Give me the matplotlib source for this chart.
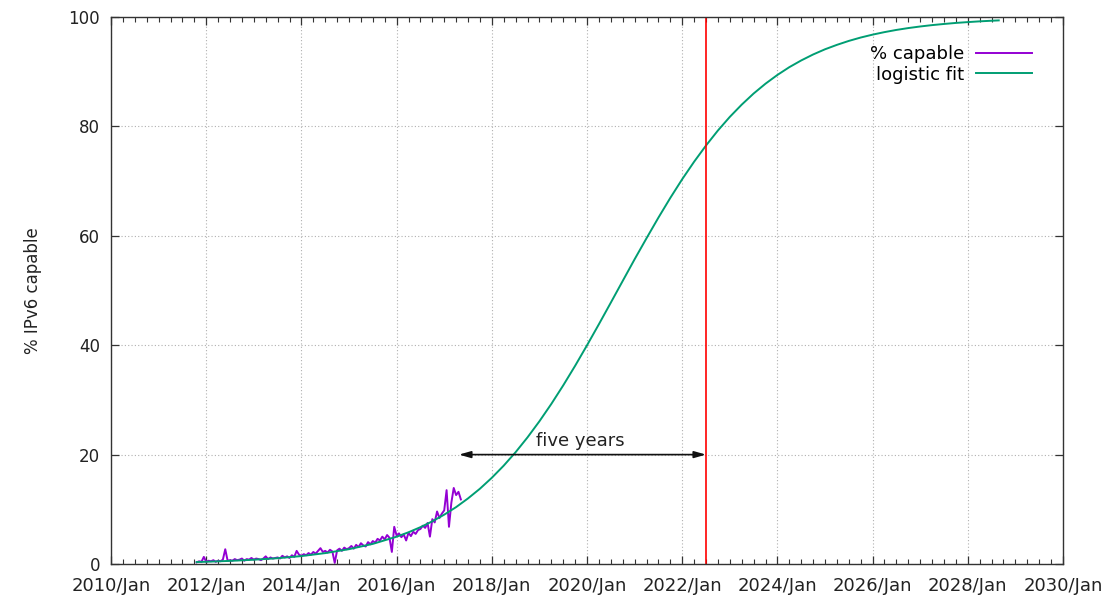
import numpy as np
import matplotlib.pyplot as plt
from matplotlib.ticker import MultipleLocator, FixedLocator, FixedFormatter

# measured share of IPv6-capable users, sampled every 0.05 year from 2011.80
capable_start = 2011.80
capable_step = 0.05
capable_pct = [
    0.3, 0.5, 0.4, 1.3,
    0.4, 0.6, 0.5, 0.7, 0.4, 0.6, 0.5, 0.8, 2.7, 0.6,
    0.7, 0.6, 0.9, 0.7, 0.8, 1.0, 0.6, 0.9, 0.8, 1.1,
    0.8, 1.0, 0.9, 0.7, 1.0, 1.4, 0.9, 1.2, 1.0, 1.1,
    1.2, 1.0, 1.5, 1.2, 1.4, 1.1, 1.6, 1.3, 2.4, 1.7,
    1.5, 1.8, 1.6, 2.0, 1.7, 2.2, 1.9, 2.4, 2.9, 2.2,
    2.4, 2.1, 2.6, 2.3, 0.2, 2.5, 2.8, 2.4, 3.0, 2.7,
    2.9, 3.3, 2.8, 3.5, 3.1, 3.8, 3.4, 3.2, 4.0, 3.6,
    4.2, 3.9, 4.6, 4.3, 5.0, 4.5, 5.3, 4.8, 2.2, 6.8,
    5.2, 5.6, 4.9, 5.4, 4.3, 5.7, 5.1, 5.9, 5.5, 6.2,
    6.4, 7.0, 6.6, 7.5, 5.0, 8.2, 7.6, 9.6, 8.4, 9.2,
    9.8, 13.5, 6.8, 11.2, 13.9, 12.6, 13.2, 11.8,
]

# logistic fit curve
fit_years = [2011.8, 2012.0, 2012.5, 2013.0, 2013.5, 2014.0, 2014.5, 2015.0,
             2015.5, 2016.0, 2016.25, 2016.5, 2016.75, 2017.0, 2017.25, 2017.5,
             2017.75, 2018.0, 2018.25, 2018.5, 2018.75, 2019.0, 2019.25, 2019.5,
             2019.75, 2020.0, 2020.25, 2020.5, 2020.75, 2021.0, 2021.25, 2021.5,
             2021.75, 2022.0, 2022.25, 2022.5, 2022.75, 2023.0, 2023.25, 2023.5,
             2023.75, 2024.0, 2024.25, 2024.5, 2024.75, 2025.0, 2025.25, 2025.5,
             2025.75, 2026.0, 2026.25, 2026.5, 2026.75, 2027.0, 2027.25, 2027.5,
             2027.75, 2028.0, 2028.25, 2028.5, 2028.65]
fit_pct = [0.36, 0.41, 0.57, 0.78, 1.06, 1.45, 1.99, 2.71,
           3.68, 4.99, 5.80, 6.73, 7.80, 9.02, 10.40, 11.99,
           13.76, 15.76, 17.98, 20.44, 23.15, 26.09, 29.26, 32.65,
           36.23, 39.98, 43.84, 47.78, 51.75, 55.71, 59.55, 63.32,
           66.93, 70.35, 73.54, 76.51, 79.25, 81.74, 83.98, 86.01,
           87.81, 89.41, 90.83, 92.06, 93.15, 94.10, 94.91, 95.63,
           96.25, 96.78, 97.24, 97.64, 97.98, 98.27, 98.52, 98.73,
           98.92, 99.07, 99.21, 99.32, 99.38]

marker_year = 2022.5
arrow_start = 2017.31
arrow_level = 20

tick_years = [2010, 2012, 2014, 2016, 2018, 2020, 2022, 2024, 2026, 2028, 2030]
tick_labels = [f"{y}/Jan" for y in tick_years]

capable_years = capable_start + capable_step * np.arange(len(capable_pct))

plt.rcParams['font.family'] = ['DejaVu Sans']
fig = plt.figure(figsize=(11.18, 5.95), dpi=100)
ax = fig.add_axes([0.0993, 0.0521, 0.8515, 0.9193])

ax.plot(capable_years, capable_pct, color='#9400d3', lw=1.4, label='% capable')
ax.plot(fit_years, fit_pct, color='#009e73', lw=1.4, label='logistic fit')
ax.axvline(marker_year, color='#ff0000', lw=1.2)

ax.annotate('', xy=(marker_year, arrow_level), xytext=(arrow_start, arrow_level),
            arrowprops=dict(arrowstyle='<|-|>,head_length=0.7,head_width=0.2',
                            color='#111111', lw=1.2, shrinkA=0, shrinkB=0))
ax.text((arrow_start + marker_year) / 2 - 0.05, arrow_level + 0.9, 'five years',
        ha='center', va='bottom', fontsize=13, color='#222222')

ax.set_xlim(2010, 2030)
ax.set_ylim(0, 100)
ax.xaxis.set_major_locator(FixedLocator(tick_years))
ax.xaxis.set_major_formatter(FixedFormatter(tick_labels))
ax.xaxis.set_minor_locator(MultipleLocator(0.25))
ax.yaxis.set_major_locator(MultipleLocator(20))

ax.tick_params(which='both', direction='in', top=True, right=True,
               color='#333333', labelcolor='#222222')
ax.tick_params(which='major', length=6, width=0.9)
ax.tick_params(which='minor', length=3.5, width=0.8)
ax.tick_params(axis='x', labelsize=13, pad=9)
ax.tick_params(axis='y', labelsize=12, pad=8)

ax.grid(True, which='major', color='#b0b0b0', linestyle=(0, (1, 2)), lw=0.8)
for s in ax.spines.values():
    s.set_color('#333333')
    s.set_linewidth(1.0)

ax.set_ylabel('% IPv6 capable', fontsize=12, labelpad=19, color='#222222')

ax.legend(loc='upper right', bbox_to_anchor=(0.975, 0.962), frameon=False,
          markerfirst=False, fontsize=13, handlelength=3.1, handletextpad=0.65,
          labelspacing=0.15, borderaxespad=0.0)

fig.savefig('out.png', dpi=100)
